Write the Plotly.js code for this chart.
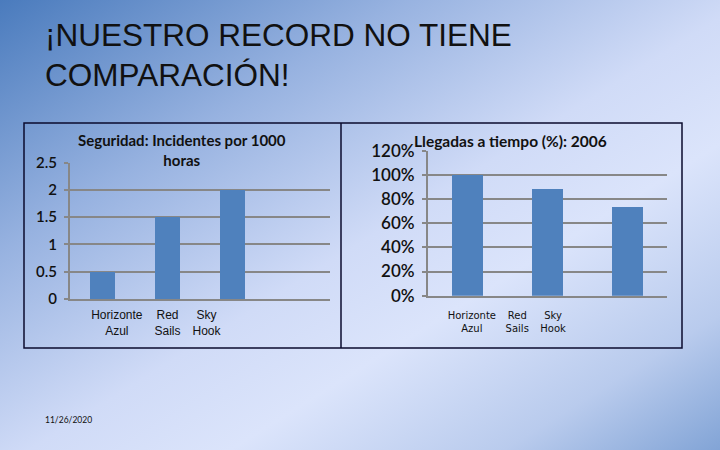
<!DOCTYPE html>
<html>
<head>
<meta charset="utf-8">
<script src="https://cdn.plot.ly/plotly-3.0.1.min.js"></script>
<style>
  html, body { margin: 0; padding: 0; }
  body {
    width: 720px; height: 450px; overflow: hidden;
    background: linear-gradient(to bottom right, #4a7bbd 0%, #97b2e0 28%, #d0dbf7 52%, #dbe4fb 66%, #b9cbed 85%, #82a4d6 100%);
  }
  #chart { width: 720px; height: 450px; }
</style>
</head>
<body>
<div id="chart"></div>
<script>
// slide text
const slideTitle = ["¡NUESTRO RECORD NO TIENE", "COMPARACIÓN!"];
const slideDate = "11/26/2020";

// left chart: safety incidents
const safetyTitle = "Seguridad: Incidentes por 1000<br>horas";
const safetyCompanies = ["Horizonte<br>Azul", "Red<br>Sails", "Sky<br>Hook"];
const safetyValues = [0.5, 1.5, 2];
const safetyTicks = [0, 0.5, 1, 1.5, 2, 2.5];
const safetyTickText = ["0", "0.5", "1", "1.5", "2", "2.5"];

// right chart: on-time arrivals 2006
const arrivalsTitle = "Llegadas a tiempo (%): 2006";
const arrivalsCompanies = ["Horizonte<br>Azul", "Red<br>Sails", "Sky<br>Hook"];
const arrivalsValues = [1.00, 0.88, 0.73];
const arrivalsTicks = [0, 0.2, 0.4, 0.6, 0.8, 1.0, 1.2];

// the slide's category labels sit a bit off their bars
const safetyLabelShift = [0.22, 0, -0.4];
const arrivalsLabelShift = [0.05, -0.38, -0.93];

const BAR = "#4f81bd";
const GRID = "#878787";
const INK = "#111111";
const numFont = "Lato, 'Noto Sans', sans-serif";

const px = v => v / 720;
const py = v => 1 - v / 450;

const idx = arr => arr.map((_, i) => i);

const traces = [
  {
    type: "bar", x: idx(safetyValues), y: safetyValues,
    width: 0.37, marker: { color: BAR }, xaxis: "x", yaxis: "y",
    hoverinfo: "y",
  },
  {
    type: "bar", x: idx(arrivalsValues), y: arrivalsValues,
    width: 0.39, marker: { color: BAR }, xaxis: "x2", yaxis: "y2",
    hoverinfo: "y",
  },
];

function yAxis(domain, range, tickvals, extra) {
  return Object.assign({
    domain, range, tickvals, fixedrange: true,
    showgrid: true, gridcolor: GRID, gridwidth: 2,
    showline: true, linecolor: GRID, linewidth: 2,
    ticks: "outside", ticklen: 4, tickcolor: GRID, tickwidth: 2,
    zeroline: false,
  }, extra);
}

function xAxis(domain, n, shift, labels, font, anchor, standoff) {
  return {
    domain, range: [-0.5, n - 0.5], anchor, fixedrange: true,
    tickmode: "array",
    tickvals: labels.map((_, i) => i + shift[i]),
    ticktext: labels,
    tickfont: font,
    ticklabelstandoff: standoff,
    ticks: "", showgrid: false, zeroline: false,
    showline: true, linecolor: GRID, linewidth: 2,
  };
}

const titleFont = { family: "'Liberation Sans', Arial, sans-serif", size: 31.5, color: INK };

const layout = {
  width: 720, height: 450,
  margin: { l: 0, r: 0, t: 0, b: 0 },
  paper_bgcolor: "rgba(0,0,0,0)",
  plot_bgcolor: "rgba(0,0,0,0)",
  showlegend: false,
  bargap: 0,
  xaxis: xAxis([px(70), px(330)], 4, safetyLabelShift, safetyCompanies,
    { family: "'Liberation Sans', Arial, sans-serif", size: 12, color: INK }, "y", 4),
  yaxis: yAxis([1 - 299 / 450, 1 - 162.7 / 450], [0, 2.5], safetyTicks, {
    ticktext: safetyTickText, tickmode: "array",
    tickfont: { family: numFont, size: 15, color: INK, weight: 600 },
    ticklabelstandoff: 4,
    anchor: "x",
  }),
  xaxis2: xAxis([px(428), px(667)], 3, arrivalsLabelShift, arrivalsCompanies,
    { family: "'DejaVu Sans', sans-serif", size: 10, color: INK }, "y2", 9),
  yaxis2: yAxis([1 - 295.7 / 450, 1 - 150.7 / 450], [0, 1.2], arrivalsTicks, {
    tickformat: ".0%", tickmode: "array",
    tickfont: { family: numFont, size: 17, color: INK, weight: 600 },
    ticklabelstandoff: 4,
    anchor: "x2",
  }),
  shapes: [
    { type: "rect", xref: "paper", yref: "paper",
      x0: px(24), x1: px(682), y0: py(348), y1: py(123),
      line: { color: "#0b0b2e", width: 1.5 } },
    { type: "line", xref: "paper", yref: "paper",
      x0: px(341), x1: px(341), y0: py(348), y1: py(123),
      line: { color: "#0b0b2e", width: 1.5 } },
  ],
  annotations: [
    { text: slideTitle[0], xref: "paper", yref: "paper", x: px(43), y: py(35),
      xanchor: "left", yanchor: "middle", showarrow: false, font: titleFont },
    { text: slideTitle[1], xref: "paper", yref: "paper", x: px(43), y: py(75),
      xanchor: "left", yanchor: "middle", showarrow: false, font: titleFont },
    { text: safetyTitle, xref: "paper", yref: "paper", x: px(182), y: py(150),
      xanchor: "center", yanchor: "middle", showarrow: false,
      font: { family: numFont, size: 15, color: INK, weight: 700 } },
    { text: arrivalsTitle, xref: "paper", yref: "paper", x: px(510), y: py(141),
      xanchor: "center", yanchor: "middle", showarrow: false,
      font: { family: numFont, size: 15.5, color: INK, weight: 700 } },
    { text: slideDate, xref: "paper", yref: "paper", x: px(43), y: py(420),
      xanchor: "left", yanchor: "middle", showarrow: false,
      font: { family: numFont, size: 8.5, color: INK } },
  ],
};

Plotly.newPlot("chart", traces, layout, { displayModeBar: false, staticPlot: true });
</script>
</body>
</html>
